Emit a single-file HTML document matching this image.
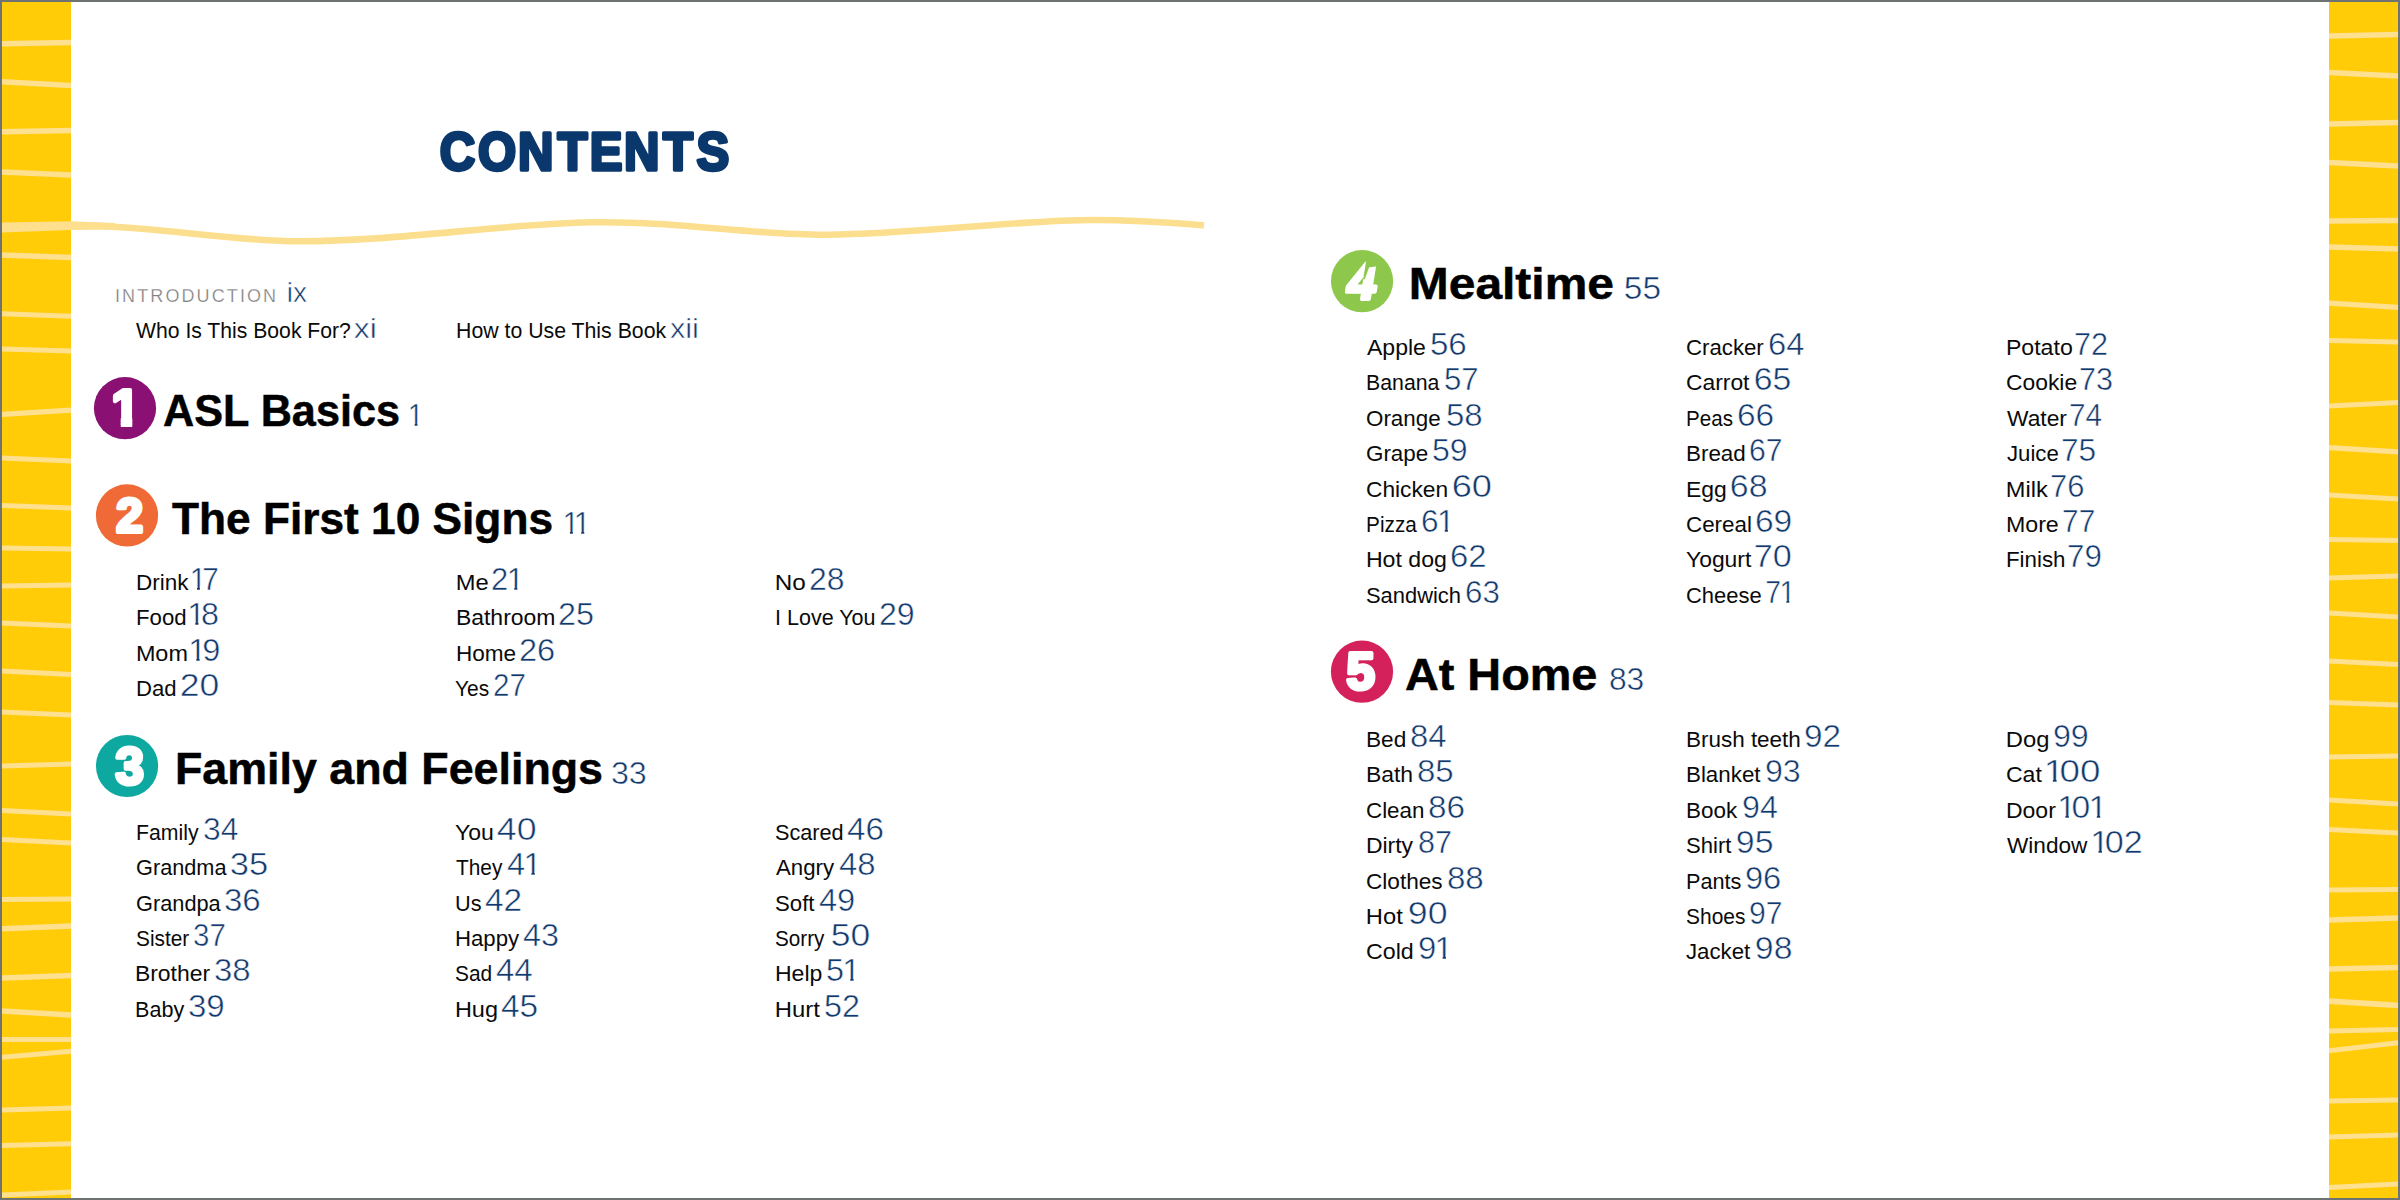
<!DOCTYPE html>
<html lang="en"><head><meta charset="utf-8"><title>Contents</title>
<style>
html,body{margin:0;padding:0;background:#fff}
body{width:2400px;height:1200px;position:relative;overflow:hidden;font-family:"Liberation Sans",sans-serif;color:#0a0a0a}
.bg{position:absolute;left:0;top:0}
.r{position:absolute;white-space:nowrap;line-height:36px;height:36px;font-size:22px}
.l{display:inline-block}
.n,.hn{display:inline-block;font-size:31.5px;line-height:0;color:#12396D;-webkit-text-stroke:.5px #fff}
.o{display:inline-block;margin:0 -.13em 0 -.05em;clip-path:polygon(-.1em -.6em,.7em -.6em,.7em .236em,.345em .236em,.345em .42em,.246em .42em,.246em .236em,-.1em .236em)}
.rn{font-size:28px}
.it{font-size:18px;letter-spacing:2.1px;color:#808080;-webkit-text-stroke:.25px #fff}
.h{position:absolute;white-space:nowrap;line-height:60px;height:60px;font-size:45px;font-weight:700;color:#000}
.h .l{-webkit-text-stroke:.5px #000}
.hn{font-weight:400;font-size:30.5px}
</style></head>
<body>
<svg class="bg" width="2400" height="1200" viewBox="0 0 2400 1200" font-family="Liberation Sans, sans-serif">
<rect x="0" y="0" width="2400" height="1200" fill="#fff"/>
<rect x="2" y="2" width="69" height="1196" fill="#FFCC07"/>
<rect x="2329" y="2" width="69" height="1196" fill="#FFCC07"/>
<clipPath id="cl"><rect x="2" y="2" width="69" height="1196"/></clipPath>
<clipPath id="cr"><rect x="2329" y="2" width="69" height="1196"/></clipPath>
<g clip-path="url(#cl)" stroke="#FFE08F" fill="none"><path d="M0 43.75L73 42.50" stroke-width="5.5"/><path d="M0 81.75L73 85.50" stroke-width="5.5"/><path d="M0 131.75L73 130.50" stroke-width="5.5"/><path d="M0 172.00L73 175.00" stroke-width="5.5"/><path d="M0 255.00L73 257.50" stroke-width="5.5"/><path d="M0 313.75L73 316.25" stroke-width="5"/><path d="M0 349.00L73 351.00" stroke-width="5"/><path d="M0 414.50L73 410.00" stroke-width="5"/><path d="M0 458.00L73 461.00" stroke-width="5"/><path d="M0 505.50L73 508.00" stroke-width="5"/><path d="M0 548.00L73 549.00" stroke-width="5"/><path d="M0 586.00L73 585.00" stroke-width="5"/><path d="M0 623.00L73 626.00" stroke-width="5"/><path d="M0 671.00L73 674.50" stroke-width="5"/><path d="M0 712.00L73 715.00" stroke-width="5"/><path d="M0 766.00L73 764.00" stroke-width="5"/><path d="M0 810.50L73 814.00" stroke-width="5"/><path d="M0 839.50L73 843.00" stroke-width="5"/><path d="M0 899.50L73 899.00" stroke-width="5"/><path d="M0 928.75L73 926.00" stroke-width="5.5"/><path d="M0 978.00L73 975.50" stroke-width="5.5"/><path d="M0 1011.00L73 1015.00" stroke-width="5.5"/><path d="M0 1039.50L73 1039.50" stroke-width="5"/><path d="M0 1057.50L73 1051.00" stroke-width="5"/><path d="M0 1110.00L73 1108.00" stroke-width="5"/><path d="M0 1145.50L73 1143.75" stroke-width="5"/><path d="M0 1195.00L73 1192.00" stroke-width="5"/></g>
<g clip-path="url(#cr)" stroke="#FFE08F" fill="none"><path d="M2327 36.00L2400 34.50" stroke-width="5.5"/><path d="M2327 72.50L2400 76.00" stroke-width="5.5"/><path d="M2327 124.00L2400 122.50" stroke-width="5.5"/><path d="M2327 162.50L2400 166.00" stroke-width="5.5"/><path d="M2327 221.00L2400 220.50" stroke-width="5.5"/><path d="M2327 247.00L2400 249.00" stroke-width="5.5"/><path d="M2327 303.00L2400 307.50" stroke-width="5"/><path d="M2327 340.50L2400 342.00" stroke-width="5"/><path d="M2327 406.00L2400 402.50" stroke-width="5"/><path d="M2327 447.50L2400 452.00" stroke-width="5"/><path d="M2327 495.00L2400 499.00" stroke-width="5"/><path d="M2327 539.50L2400 540.50" stroke-width="5"/><path d="M2327 578.00L2400 576.00" stroke-width="5"/><path d="M2327 613.00L2400 617.00" stroke-width="5"/><path d="M2327 661.00L2400 664.50" stroke-width="5"/><path d="M2327 702.50L2400 705.00" stroke-width="5"/><path d="M2327 757.00L2400 756.00" stroke-width="5"/><path d="M2327 800.00L2400 804.00" stroke-width="5"/><path d="M2327 829.50L2400 833.00" stroke-width="5"/><path d="M2327 890.00L2400 889.50" stroke-width="5"/><path d="M2327 920.00L2400 918.00" stroke-width="5.5"/><path d="M2327 969.00L2400 967.50" stroke-width="5.5"/><path d="M2327 1001.00L2400 1005.50" stroke-width="5.5"/><path d="M2327 1031.00L2400 1029.50" stroke-width="5"/><path d="M2327 1051.00L2400 1042.50" stroke-width="5"/><path d="M2327 1101.00L2400 1100.00" stroke-width="5"/><path d="M2327 1137.00L2400 1135.00" stroke-width="5"/><path d="M2327 1187.50L2400 1184.00" stroke-width="5"/></g>
<path d="M2 227.5 C30 227.5 50 226 71 225.5 C150 225 230 241.5 300 241.3 C400 241 500 224 592 222.3 C680 221 750 235 827 234.7 C910 234.3 1020 220 1093 220 C1140 220 1175 223 1204 225.3" fill="none" stroke="#FCDF8E" stroke-width="6.6"/>
<path d="M2 222.6 L71 221.3 L115 223 L115 229.6 L71 230 L2 232.5Z" fill="#FDDF8E"/>
<path d="M1 0V1200M2399 0V1200M0 1H2400M0 1199H2400" stroke="#6F7273" stroke-width="2" fill="none"/>
<text transform="translate(440.8 170) scale(.9264 1)" x="-1.03 40.15 83.39 125.94 160.81 197.84 239.75 275.94" y="0" font-size="53" font-weight="700" fill="#0A376C" stroke="#0A376C" stroke-width="3.4" stroke-linejoin="round">CONTENTS</text>
<circle cx="125.0" cy="408.2" r="31.1" fill="#8A1173"/><clipPath id="c1"><path d="M105.4 375.4H151.4V417.70H132.23V429.4H120.77V417.70H105.4Z"/></clipPath><text x="111.40" y="425.40" font-size="50" font-weight="700" fill="#fff" stroke="#fff" stroke-width="4" stroke-linejoin="round" clip-path="url(#c1)">1</text><circle cx="127.0" cy="515.4" r="31.1" fill="#F06A37"/><text x="129.50" y="531.91" text-anchor="middle" font-size="48" font-weight="700" fill="#fff" stroke="#fff" stroke-width="4" stroke-linejoin="round">2</text><circle cx="127.05" cy="766.0" r="31.1" fill="#0DA9A0"/><text x="129.65" y="783.54" text-anchor="middle" font-size="51" font-weight="700" fill="#fff" stroke="#fff" stroke-width="4" stroke-linejoin="round">3</text><circle cx="1362.05" cy="281.2" r="31.1" fill="#8DC74B"/><text x="1362.35" y="299.09" text-anchor="middle" font-size="52" font-weight="700" fill="#fff" stroke="#fff" stroke-width="4" stroke-linejoin="round" transform="translate(1362.05 281.2) skewX(-9) translate(-1362.05 -281.2)">4</text><path d="M1366.3 260.0L1378.7 260.0L1378.7 266.1L1369.0 267.6L1364.8 279.3L1363.2 279.3Z" fill="#8DC74B"/><circle cx="1362.0" cy="671.7" r="31.1" fill="#D4215C"/><text x="1360.80" y="689.24" text-anchor="middle" font-size="51" font-weight="700" fill="#fff" stroke="#fff" stroke-width="4" stroke-linejoin="round">5</text>
</svg>
<div class="r" style="left:115px;top:276.60px"><span class="it">INTRODUCTION</span><span class="n rn" style="margin-left:8.5px">ix</span></div>
<div class="r" style="left:135.73px;top:312.6px"><span class="l" style="transform:scaleX(0.962);transform-origin:0.27px 50%">Who Is This Book For?</span><span class="n rn" style="margin-left:-5.31px;transform:scaleX(1.139);transform-origin:1.23px 100%">xi</span></div>
<div class="r" style="left:455.52px;top:312.6px"><span class="l" style="transform:scaleX(0.967);transform-origin:1.78px 50%">How to Use This Book</span><span class="n rn" style="margin-left:-3.28px;transform:scaleX(1.099);transform-origin:1.21px 100%">xii</span></div>
<div class="h" style="left:162.56px;top:380.6px"><span class="l" style="transform:scaleX(0.960);transform-origin:0.94px 50%">ASL Basics</span><span class="hn" style="margin-left:-0.32px;transform:scaleX(0.927);transform-origin:1.56px 100%"><span class="o">1</span></span></div>
<div class="h" style="left:172.4px;top:488.6px"><span class="l" style="transform:scaleX(0.983);transform-origin:0.35px 50%">The First 10 Signs</span><span class="hn" style="margin-left:3.5px;transform:scaleX(0.986);transform-origin:1.5px 100%"><span class="o">1</span><span class="o">1</span></span></div>
<div class="h" style="left:174.99px;top:738.6px"><span class="l" style="transform:scaleX(0.995);transform-origin:2.71px 50%">Family and Feelings</span><span class="hn" style="margin-left:6.15px;transform:scaleX(1.059);transform-origin:1.84px 100%">33</span></div>
<div class="h" style="left:1409.03px;top:253.6px"><span class="l" style="transform:scaleX(1.065);transform-origin:2.87px 50%">Mealtime</span><span class="hn" style="margin-left:22.81px;transform:scaleX(1.097);transform-origin:1.84px 100%">55</span></div>
<div class="h" style="left:1405.26px;top:644.6px"><span class="l" style="transform:scaleX(1.040);transform-origin:0.99px 50%">At Home</span><span class="hn" style="margin-left:18.76px;transform:scaleX(1.043);transform-origin:1.56px 100%">83</span></div>
<div class="r" style="left:135.87px;top:564.6px"><span class="l" style="transform:scaleX(1.022);transform-origin:1.73px 50%">Drink</span><span class="n" style="margin-left:4.24px;transform:scaleX(0.945);transform-origin:1.85px 100%"><span class="o">1</span>7</span></div>
<div class="r" style="left:135.87px;top:599.6px"><span class="l" style="transform:scaleX(1.009);transform-origin:1.73px 50%">Food</span><span class="n" style="margin-left:2.84px;transform:scaleX(1.024);transform-origin:1.93px 100%"><span class="o">1</span>8</span></div>
<div class="r" style="left:135.87px;top:635.6px"><span class="l" style="transform:scaleX(1.063);transform-origin:1.73px 50%">Mom</span><span class="n" style="margin-left:5.07px;transform:scaleX(1.033);transform-origin:1.87px 100%"><span class="o">1</span>9</span></div>
<div class="r" style="left:135.87px;top:670.6px"><span class="l" style="transform:scaleX(1.005);transform-origin:1.73px 50%">Dad</span><span class="n" style="margin-left:3.61px;transform:scaleX(1.127);transform-origin:1.86px 100%">20</span></div>
<div class="r" style="left:455.52px;top:564.6px"><span class="l" style="transform:scaleX(1.077);transform-origin:1.78px 50%">Me</span><span class="n" style="margin-left:5.07px;transform:scaleX(0.980);transform-origin:1.85px 100%">2<span class="o">1</span></span></div>
<div class="r" style="left:455.52px;top:599.6px"><span class="l" style="transform:scaleX(1.043);transform-origin:1.78px 50%">Bathroom</span><span class="n" style="margin-left:6.77px;transform:scaleX(1.026);transform-origin:2.02px 100%">25</span></div>
<div class="r" style="left:455.52px;top:635.6px"><span class="l" style="transform:scaleX(1.024);transform-origin:1.78px 50%">Home</span><span class="n" style="margin-left:4.76px;transform:scaleX(1.034);transform-origin:1.83px 100%">26</span></div>
<div class="r" style="left:454.98px;top:670.6px"><span class="l" style="transform:scaleX(0.951);transform-origin:0.92px 50%">Yes</span><span class="n" style="margin-left:1.9px;transform:scaleX(0.940);transform-origin:1.93px 100%">27</span></div>
<div class="r" style="left:775.31px;top:564.6px"><span class="l" style="transform:scaleX(1.104);transform-origin:1.89px 50%">No</span><span class="n" style="margin-left:5.77px;transform:scaleX(1.014);transform-origin:1.59px 100%">28</span></div>
<div class="r" style="left:775.09px;top:599.6px"><span class="l" style="transform:scaleX(0.978);transform-origin:2.11px 50%">I Love You</span><span class="n" style="margin-left:1.08px;transform:scaleX(1.019);transform-origin:1.85px 100%">29</span></div>
<div class="r" style="left:135.82px;top:814.6px"><span class="l" style="transform:scaleX(0.966);transform-origin:1.88px 50%">Family</span><span class="n" style="margin-left:2.04px;transform:scaleX(1.011);transform-origin:1.96px 100%">34</span></div>
<div class="r" style="left:135.83px;top:849.6px"><span class="l" style="transform:scaleX(0.987);transform-origin:1.17px 50%">Grandma</span><span class="n" style="margin-left:2.67px;transform:scaleX(1.096);transform-origin:1.98px 100%">35</span></div>
<div class="r" style="left:135.83px;top:885.6px"><span class="l" style="transform:scaleX(0.989);transform-origin:1.17px 50%">Grandpa</span><span class="n" style="margin-left:2.77px;transform:scaleX(1.049);transform-origin:2.07px 100%">36</span></div>
<div class="r" style="left:135.73px;top:920.6px"><span class="l" style="transform:scaleX(0.945);transform-origin:1.27px 50%">Sister</span><span class="n" style="margin-left:0.57px;transform:scaleX(0.936);transform-origin:1.64px 100%">37</span></div>
<div class="r" style="left:135.19px;top:955.6px"><span class="l" style="transform:scaleX(1.042);transform-origin:1.81px 50%">Brother</span><span class="n" style="margin-left:6.21px;transform:scaleX(1.045);transform-origin:1.74px 100%">38</span></div>
<div class="r" style="left:135.19px;top:991.6px"><span class="l" style="transform:scaleX(0.980);transform-origin:1.81px 50%">Baby</span><span class="n" style="margin-left:3.11px;transform:scaleX(1.050);transform-origin:1.74px 100%">39</span></div>
<div class="r" style="left:455.39px;top:814.6px"><span class="l" style="transform:scaleX(1.046);transform-origin:0.71px 50%">You</span><span class="n" style="margin-left:4.13px;transform:scaleX(1.133);transform-origin:1.06px 100%">40</span></div>
<div class="r" style="left:456.19px;top:849.6px"><span class="l" style="transform:scaleX(0.947);transform-origin:0.41px 50%">They</span><span class="n" style="margin-left:1.57px;transform:scaleX(1.034);transform-origin:1.11px 100%">4<span class="o">1</span></span></div>
<div class="r" style="left:454.97px;top:885.6px"><span class="l" style="transform:scaleX(0.987);transform-origin:1.63px 50%">Us</span><span class="n" style="margin-left:2.79px;transform:scaleX(1.061);transform-origin:1.14px 100%">42</span></div>
<div class="r" style="left:454.87px;top:920.6px"><span class="l" style="transform:scaleX(1.009);transform-origin:1.73px 50%">Happy</span><span class="n" style="margin-left:4.75px;transform:scaleX(1.027);transform-origin:1.09px 100%">43</span></div>
<div class="r" style="left:455.48px;top:955.6px"><span class="l" style="transform:scaleX(0.949);transform-origin:1.12px 50%">Sad</span><span class="n" style="margin-left:1.15px;transform:scaleX(1.049);transform-origin:1.01px 100%">44</span></div>
<div class="r" style="left:454.87px;top:991.6px"><span class="l" style="transform:scaleX(1.067);transform-origin:1.73px 50%">Hug</span><span class="n" style="margin-left:5.65px;transform:scaleX(1.061);transform-origin:0.92px 100%">45</span></div>
<div class="r" style="left:775.48px;top:814.6px"><span class="l" style="transform:scaleX(0.983);transform-origin:1.12px 50%">Scared</span><span class="n" style="margin-left:1.84px;transform:scaleX(1.054);transform-origin:0.97px 100%">46</span></div>
<div class="r" style="left:775.92px;top:849.6px"><span class="l" style="transform:scaleX(1.011);transform-origin:0.18px 50%">Angry</span><span class="n" style="margin-left:5.24px;transform:scaleX(1.044);transform-origin:1.05px 100%">48</span></div>
<div class="r" style="left:775.48px;top:885.6px"><span class="l" style="transform:scaleX(1.009);transform-origin:1.12px 50%">Soft</span><span class="n" style="margin-left:4.85px;transform:scaleX(1.036);transform-origin:1.03px 100%">49</span></div>
<div class="r" style="left:775.48px;top:920.6px"><span class="l" style="transform:scaleX(0.939);transform-origin:1.12px 50%">Sorry</span><span class="n" style="margin-left:2.62px;transform:scaleX(1.127);transform-origin:1.73px 100%">50</span></div>
<div class="r" style="left:774.98px;top:955.6px"><span class="l" style="transform:scaleX(1.048);transform-origin:1.92px 50%">Help</span><span class="n" style="margin-left:6.22px;transform:scaleX(1.027);transform-origin:1.75px 100%">5<span class="o">1</span></span></div>
<div class="r" style="left:774.98px;top:991.6px"><span class="l" style="transform:scaleX(1.085);transform-origin:1.92px 50%">Hurt</span><span class="n" style="margin-left:7.93px;transform:scaleX(1.025);transform-origin:1.93px 100%">52</span></div>
<div class="r" style="left:1366.73px;top:329.6px"><span class="l" style="transform:scaleX(1.047);transform-origin:0.27px 50%">Apple</span><span class="n" style="margin-left:6.68px;transform:scaleX(1.052);transform-origin:1.61px 100%">56</span></div>
<div class="r" style="left:1366.19px;top:364.6px"><span class="l" style="transform:scaleX(0.966);transform-origin:1.81px 50%">Banana</span><span class="n" style="margin-left:2.45px;transform:scaleX(0.989);transform-origin:1.8px 100%">57</span></div>
<div class="r" style="left:1366.41px;top:400.6px"><span class="l" style="transform:scaleX(1.017);transform-origin:1.09px 50%">Orange</span><span class="n" style="margin-left:5.8px;transform:scaleX(1.048);transform-origin:1.89px 100%">58</span></div>
<div class="r" style="left:1366.35px;top:435.6px"><span class="l" style="transform:scaleX(1.017);transform-origin:1.15px 50%">Grape</span><span class="n" style="margin-left:4.79px;transform:scaleX(1.017);transform-origin:2.01px 100%">59</span></div>
<div class="r" style="left:1366.33px;top:471.6px"><span class="l" style="transform:scaleX(1.034);transform-origin:1.17px 50%">Chicken</span><span class="n" style="margin-left:6.14px;transform:scaleX(1.150);transform-origin:1.84px 100%">60</span></div>
<div class="r" style="left:1366.19px;top:506.6px"><span class="l" style="transform:scaleX(0.942);transform-origin:1.81px 50%">Pizza</span><span class="n" style="margin-left:0.6px;transform:scaleX(1.003);transform-origin:1.91px 100%">6<span class="o">1</span></span></div>
<div class="r" style="left:1366.19px;top:541.6px"><span class="l" style="transform:scaleX(1.051);transform-origin:1.81px 50%">Hot dog</span><span class="n" style="margin-left:6.78px;transform:scaleX(1.042);transform-origin:1.76px 100%">62</span></div>
<div class="r" style="left:1366.29px;top:577.6px"><span class="l" style="transform:scaleX(0.996);transform-origin:1.21px 50%">Sandwich</span><span class="n" style="margin-left:3.19px;transform:scaleX(0.993);transform-origin:1.94px 100%">63</span></div>
<div class="r" style="left:1686.33px;top:329.6px"><span class="l" style="transform:scaleX(1.010);transform-origin:1.17px 50%">Cracker</span><span class="n" style="margin-left:4.68px;transform:scaleX(1.039);transform-origin:1.97px 100%">64</span></div>
<div class="r" style="left:1686.33px;top:364.6px"><span class="l" style="transform:scaleX(1.039);transform-origin:1.17px 50%">Carrot</span><span class="n" style="margin-left:6.26px;transform:scaleX(1.071);transform-origin:2.08px 100%">65</span></div>
<div class="r" style="left:1686.19px;top:400.6px"><span class="l" style="transform:scaleX(0.935);transform-origin:1.81px 50%">Peas</span><span class="n" style="margin-left:0.45px;transform:scaleX(1.061);transform-origin:2px 100%">66</span></div>
<div class="r" style="left:1686.19px;top:435.6px"><span class="l" style="transform:scaleX(1.019);transform-origin:1.81px 50%">Bread</span><span class="n" style="margin-left:3.6px;transform:scaleX(0.956);transform-origin:1.99px 100%">67</span></div>
<div class="r" style="left:1686.19px;top:471.6px"><span class="l" style="transform:scaleX(1.043);transform-origin:1.81px 50%">Egg</span><span class="n" style="margin-left:4.45px;transform:scaleX(1.076);transform-origin:2px 100%">68</span></div>
<div class="r" style="left:1686.33px;top:506.6px"><span class="l" style="transform:scaleX(1.017);transform-origin:1.17px 50%">Cereal</span><span class="n" style="margin-left:3.81px;transform:scaleX(1.065);transform-origin:1.84px 100%">69</span></div>
<div class="r" style="left:1686.19px;top:541.6px"><span class="l" style="transform:scaleX(1.041);transform-origin:0.81px 50%">Yogurt</span><span class="n" style="margin-left:5.4px;transform:scaleX(1.086);transform-origin:1.9px 100%">70</span></div>
<div class="r" style="left:1686.33px;top:577.6px"><span class="l" style="transform:scaleX(0.997);transform-origin:1.17px 50%">Cheese</span><span class="n" style="margin-left:3.05px;transform:scaleX(0.899);transform-origin:1.58px 100%">7<span class="o">1</span></span></div>
<div class="r" style="left:2006.19px;top:329.6px"><span class="l" style="transform:scaleX(1.051);transform-origin:1.81px 50%">Potato</span><span class="n" style="margin-left:4.63px;transform:scaleX(0.971);transform-origin:1.87px 100%">72</span></div>
<div class="r" style="left:2006.33px;top:364.6px"><span class="l" style="transform:scaleX(1.039);transform-origin:1.17px 50%">Cookie</span><span class="n" style="margin-left:4.14px;transform:scaleX(0.970);transform-origin:1.84px 100%">73</span></div>
<div class="r" style="left:2007.26px;top:400.6px"><span class="l" style="transform:scaleX(1.036);transform-origin:0.24px 50%">Water</span><span class="n" style="margin-left:4.12px;transform:scaleX(0.943);transform-origin:1.56px 100%">74</span></div>
<div class="r" style="left:2006.96px;top:435.6px"><span class="l" style="transform:scaleX(1.008);transform-origin:0.54px 50%">Juice</span><span class="n" style="margin-left:3.13px;transform:scaleX(1.004);transform-origin:1.85px 100%">75</span></div>
<div class="r" style="left:2006.19px;top:471.6px"><span class="l" style="transform:scaleX(1.072);transform-origin:1.81px 50%">Milk</span><span class="n" style="margin-left:4.98px;transform:scaleX(0.981);transform-origin:1.72px 100%">76</span></div>
<div class="r" style="left:2006.19px;top:506.6px"><span class="l" style="transform:scaleX(1.055);transform-origin:1.81px 50%">More</span><span class="n" style="margin-left:5.19px;transform:scaleX(0.946);transform-origin:1.79px 100%">77</span></div>
<div class="r" style="left:2006.19px;top:541.6px"><span class="l" style="transform:scaleX(1.014);transform-origin:1.81px 50%">Finish</span><span class="n" style="margin-left:2.4px;transform:scaleX(0.994);transform-origin:2.03px 100%">79</span></div>
<div class="r" style="left:1366.19px;top:721.6px"><span class="l" style="transform:scaleX(1.029);transform-origin:1.81px 50%">Bed</span><span class="n" style="margin-left:4.76px;transform:scaleX(1.043);transform-origin:1.69px 100%">84</span></div>
<div class="r" style="left:1366.19px;top:756.6px"><span class="l" style="transform:scaleX(1.043);transform-origin:1.81px 50%">Bath</span><span class="n" style="margin-left:5.76px;transform:scaleX(1.048);transform-origin:1.58px 100%">85</span></div>
<div class="r" style="left:1366.33px;top:792.6px"><span class="l" style="transform:scaleX(1.017);transform-origin:1.17px 50%">Clean</span><span class="n" style="margin-left:4.43px;transform:scaleX(1.057);transform-origin:1.75px 100%">86</span></div>
<div class="r" style="left:1366.19px;top:827.6px"><span class="l" style="transform:scaleX(1.043);transform-origin:1.81px 50%">Dirty</span><span class="n" style="margin-left:6.96px;transform:scaleX(0.970);transform-origin:1.63px 100%">87</span></div>
<div class="r" style="left:1366.33px;top:863.6px"><span class="l" style="transform:scaleX(1.028);transform-origin:1.17px 50%">Clothes</span><span class="n" style="margin-left:6.23px;transform:scaleX(1.052);transform-origin:1.64px 100%">88</span></div>
<div class="r" style="left:1366.19px;top:898.6px"><span class="l" style="transform:scaleX(1.078);transform-origin:1.81px 50%">Hot</span><span class="n" style="margin-left:7.4px;transform:scaleX(1.134);transform-origin:1.66px 100%">90</span></div>
<div class="r" style="left:1366.33px;top:933.6px"><span class="l" style="transform:scaleX(1.056);transform-origin:1.17px 50%">Cold</span><span class="n" style="margin-left:5.97px;transform:scaleX(1.044);transform-origin:1.94px 100%">9<span class="o">1</span></span></div>
<div class="r" style="left:1686.19px;top:721.6px"><span class="l" style="transform:scaleX(1.021);transform-origin:1.81px 50%">Brush teeth</span><span class="n" style="margin-left:5.21px;transform:scaleX(1.058);transform-origin:1.89px 100%">92</span></div>
<div class="r" style="left:1686.19px;top:756.6px"><span class="l" style="transform:scaleX(1.016);transform-origin:1.81px 50%">Blanket</span><span class="n" style="margin-left:5.91px;transform:scaleX(1.020);transform-origin:2.01px 100%">93</span></div>
<div class="r" style="left:1686.19px;top:792.6px"><span class="l" style="transform:scaleX(1.020);transform-origin:1.81px 50%">Book</span><span class="n" style="margin-left:5.2px;transform:scaleX(1.023);transform-origin:1.75px 100%">94</span></div>
<div class="r" style="left:1686.29px;top:827.6px"><span class="l" style="transform:scaleX(1.003);transform-origin:1.21px 50%">Shirt</span><span class="n" style="margin-left:4.02px;transform:scaleX(1.074);transform-origin:1.94px 100%">95</span></div>
<div class="r" style="left:1686.19px;top:863.6px"><span class="l" style="transform:scaleX(0.985);transform-origin:1.81px 50%">Pants</span><span class="n" style="margin-left:2.7px;transform:scaleX(1.037);transform-origin:1.64px 100%">96</span></div>
<div class="r" style="left:1686.29px;top:898.6px"><span class="l" style="transform:scaleX(0.951);transform-origin:1.21px 50%">Shoes</span><span class="n" style="margin-left:0.72px;transform:scaleX(0.956);transform-origin:1.91px 100%">97</span></div>
<div class="r" style="left:1686.49px;top:933.6px"><span class="l" style="transform:scaleX(1.010);transform-origin:0.51px 50%">Jacket</span><span class="n" style="margin-left:4.91px;transform:scaleX(1.072);transform-origin:1.81px 100%">98</span></div>
<div class="r" style="left:2006.19px;top:721.6px"><span class="l" style="transform:scaleX(1.082);transform-origin:1.81px 50%">Dog</span><span class="n" style="margin-left:6.4px;transform:scaleX(1.022);transform-origin:1.55px 100%">99</span></div>
<div class="r" style="left:2006.33px;top:756.6px"><span class="l" style="transform:scaleX(1.049);transform-origin:1.17px 50%">Cat</span><span class="n" style="margin-left:4.98px;transform:scaleX(1.167);transform-origin:1.93px 100%"><span class="o">1</span>00</span></div>
<div class="r" style="left:2006.19px;top:792.6px"><span class="l" style="transform:scaleX(1.046);transform-origin:1.81px 50%">Door</span><span class="n" style="margin-left:5.42px;transform:scaleX(1.068);transform-origin:2px 100%"><span class="o">1</span>0<span class="o">1</span></span></div>
<div class="r" style="left:2007.26px;top:827.6px"><span class="l" style="transform:scaleX(1.028);transform-origin:0.24px 50%">Window</span><span class="n" style="margin-left:6.36px;transform:scaleX(1.083);transform-origin:1.93px 100%"><span class="o">1</span>02</span></div>
</body></html>
